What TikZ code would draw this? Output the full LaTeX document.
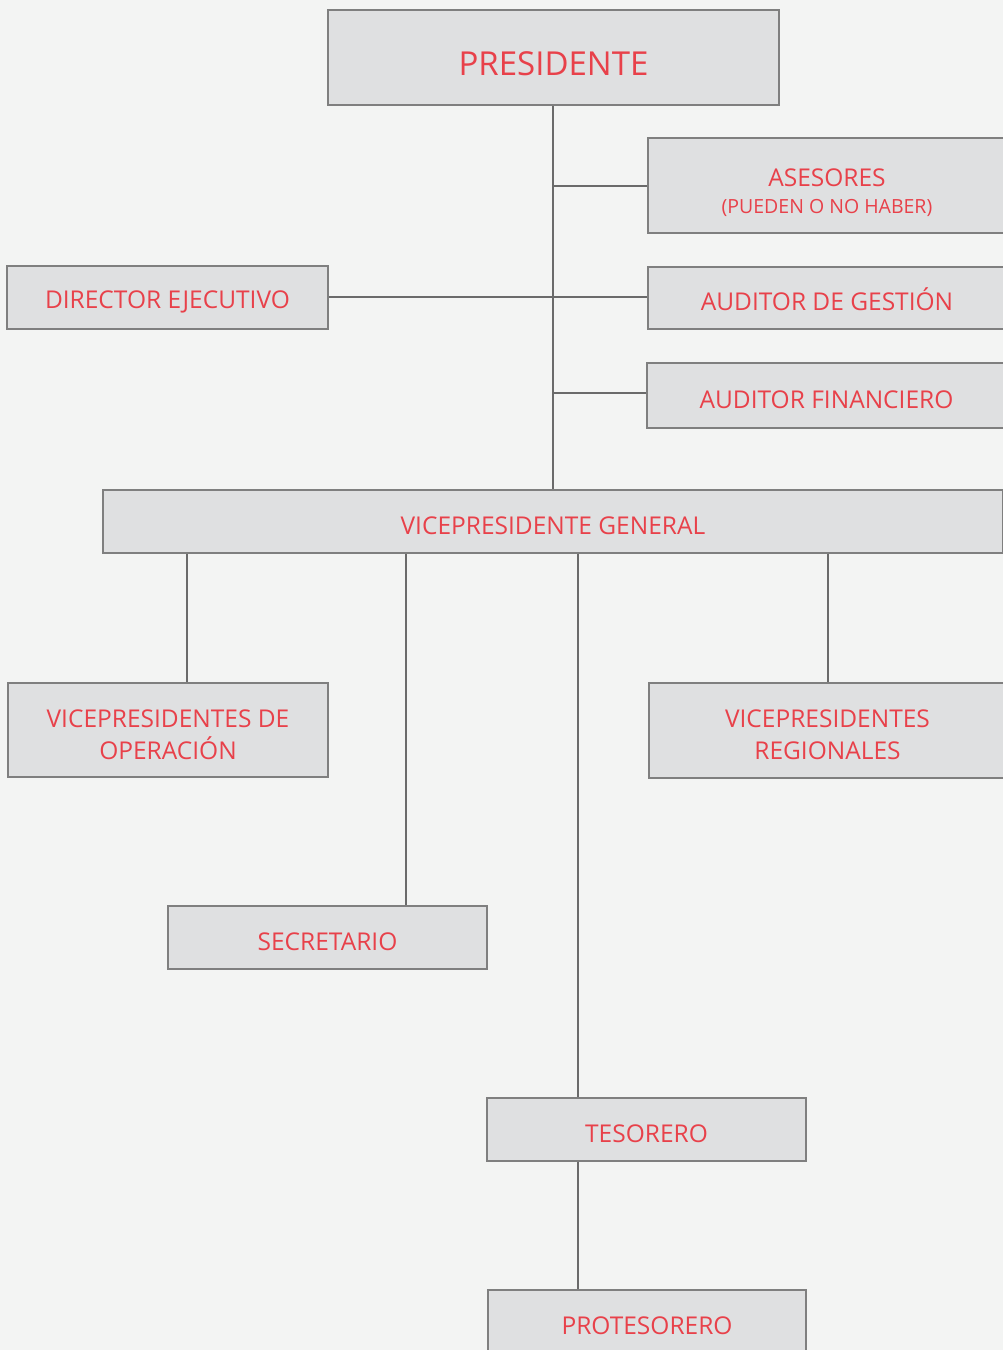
\documentclass[tikz,border=0pt]{standalone}
\usepackage{fontspec}
\setmainfont{Open Sans}
\usepackage{xcolor}
\usetikzlibrary{positioning}
\definecolor{bgcol}{HTML}{F3F4F3}
\definecolor{boxfill}{HTML}{DFE0E1}
\definecolor{boxline}{HTML}{7F7F7F}
\definecolor{txtred}{HTML}{E8414A}
\definecolor{linkcol}{HTML}{6A6A6A}
\begin{document}
\begin{tikzpicture}[x=1pt, y=-1pt,
  box/.style={draw=boxline, fill=boxfill, line width=1.3pt, text=txtred, align=center, inner sep=0pt,
    text height=26pt, font=\fontsize{24.5}{32}\selectfont},
  twoline/.style={text height=59pt},
  link/.style={draw=linkcol, line width=1.8pt}
]
\useasboundingbox (0,0) rectangle (1003,1350);
\fill[bgcol] (0,0) rectangle (1003,1350);
\clip (0,0) rectangle (1003,1350);
% top level
\node[box, minimum width=451pt, minimum height=95pt, text height=36pt, font=\fontsize{33}{40}\selectfont] (pres) at (553.5,57.5) {PRESIDENTE};
\node[box, twoline, minimum width=358pt, minimum height=95pt] (ases) at (827,185.5) {ASESORES\\[-5pt]{\fontsize{19.5}{22}\selectfont(PUEDEN O NO HABER)}};
\node[box, minimum width=321pt, minimum height=63pt] (dir) at (167.5,297.5) {DIRECTOR EJECUTIVO};
\node[box, minimum width=358pt, minimum height=62pt] (audg) at (827,298) {AUDITOR DE GESTIÓN};
\node[box, minimum width=359pt, minimum height=65pt] (audf) at (826.5,395.5) {AUDITOR FINANCIERO};
% vicepresidencia
\node[box, minimum width=900pt, minimum height=63pt] (vpg) at (553,521.5) {VICEPRESIDENTE GENERAL};
\node[box, twoline, minimum width=320pt, minimum height=94pt] (vpo) at (168,730) {VICEPRESIDENTES DE\\OPERACIÓN};
\node[box, twoline, minimum width=357pt, minimum height=95pt] (vpr) at (827.5,730.5) {VICEPRESIDENTES\\REGIONALES};
\node[box, minimum width=319pt, minimum height=63pt] (sec) at (327.5,937.5) {SECRETARIO};
\node[box, minimum width=319pt, minimum height=63pt] (tes) at (646.5,1129.5) {TESORERO};
\node[box, minimum width=318pt, minimum height=63pt] (pro) at (647,1321.5) {PROTESORERO};
% connectors
\coordinate (trunk) at (553,0);
\draw[link] (pres.south -| trunk) -- (vpg.north -| trunk);
\draw[link] (ases.west |- 0,186) -- (553,186);
\draw[link] (dir.east |- 0,297) -- (audg.west |- 0,297);
\draw[link] (audf.west |- 0,393) -- (553,393);
\draw[link] (vpg.south -| 187,0) -- (vpo.north -| 187,0);
\draw[link] (vpg.south -| 406,0) -- (sec.north -| 406,0);
\draw[link] (vpg.south -| 578,0) -- (tes.north -| 578,0);
\draw[link] (vpg.south -| 828,0) -- (vpr.north -| 828,0);
\draw[link] (tes.south -| 578,0) -- (pro.north -| 578,0);
\end{tikzpicture}
\end{document}
